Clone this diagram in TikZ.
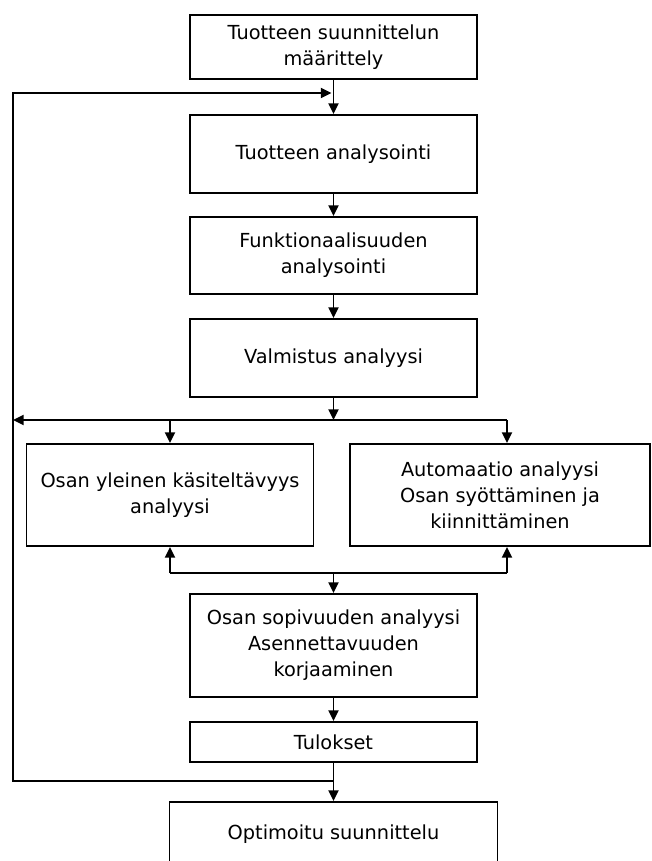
\documentclass[tikz,border=0pt]{standalone}
\usepackage{fontspec}
\setmainfont{DejaVu Sans}
\usepackage{tikz}
\usetikzlibrary{positioning, arrows.meta}

\begin{document}
\begin{tikzpicture}[
  x=0.75pt, y=-0.75pt,
  >={Triangle[length=8pt,width=7.5pt]},
  line width=1.4pt,
  every node/.style={draw,align=center,inner sep=2pt,minimum width=215.25pt,
    font=\fontsize{14.5}{19.5}\selectfont}
]
\useasboundingbox (0,0) rectangle (651,861);

\node (def)  [minimum height=48pt]   at (333.5,47)  {Tuotteen suunnittelun\\määrittely};
\node (tuo)  [minimum height=58.5pt] at (333.5,154) {Tuotteen analysointi};
\node (fun)  [minimum height=57.75pt] at (333.5,255.5) {Funktionaalisuuden\\analysointi};
\node (val)  [minimum height=58.5pt] at (333.5,358) {Valmistus analyysi};
\node (kas)  [minimum height=76.5pt] at (170,495)   {Osan yleinen käsiteltävyys\\analyysi};
\node (aut)  [minimum height=76.5pt,minimum width=225pt] at (500,495)
  {Automaatio analyysi\\Osan syöttäminen ja\\kiinnittäminen};
\node (sop)  [minimum height=77.25pt] at (333.5,645.5) {Osan sopivuuden analyysi\\Asennettavuuden\\korjaaminen};
\node (tul)  [minimum height=30pt]   at (333.5,742) {Tulokset};
\node (opt)  [minimum height=48pt,minimum width=246pt] at (333.5,834) {Optimoitu suunnittelu};   % runs off the page

% branch and loop points
\coordinate (jtop)  at (333.5,93);
\coordinate (ltop)  at (13,93);
\coordinate (split) at (333.5,420);
\coordinate (lmid)  at (13,420);
\coordinate (sr)    at (507,420);
\coordinate (sl)    at (170,420);
\coordinate (merge) at (333.5,573);
\coordinate (ml)    at (170,573);
\coordinate (mr)    at (507,573);
\coordinate (jbot)  at (333.5,781);
\coordinate (lbot)  at (13,781);

\draw[->] (def) -- (tuo);
\draw[->] (tuo) -- (fun);
\draw[->] (fun) -- (val);
\draw[->] (val) -- (split);

\draw[->] (sr) -- (lmid);                  % to the loop line
\draw[->] (sl) -- (kas);
\draw[->] (sr) -- (sr |- aut.north);

\draw (ml) -- (mr);
\draw[->] (ml) -- (kas);
\draw[->] (mr) -- (mr |- aut.south);
\draw[->] (merge) -- (sop);

\draw[->] (sop) -- (tul);
\draw[->] (tul) -- (opt);

\draw[->,shorten >=1.5pt] (jbot) -- (lbot) -- (ltop) -- (jtop);   % feedback
\end{tikzpicture}
\end{document}
